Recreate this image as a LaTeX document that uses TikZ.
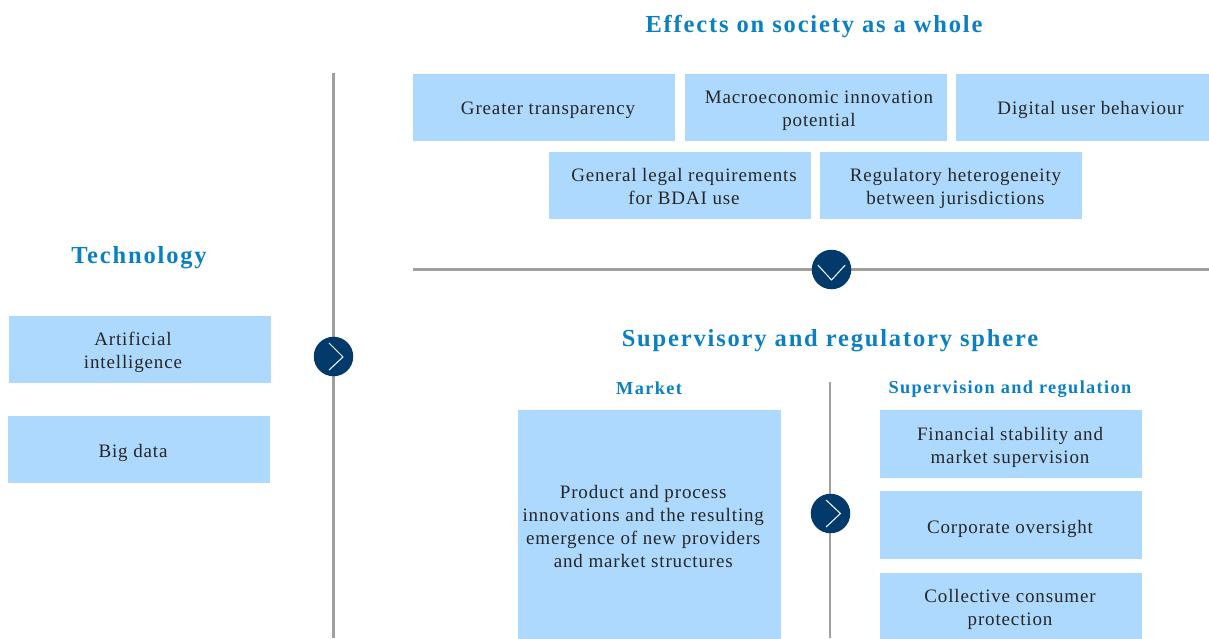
\documentclass[tikz,border=0pt]{standalone}
\usepackage{fontspec}
\setmainfont{Liberation Serif}[LetterSpace=4.5]
\newfontfamily\headfont{Liberation Serif}[LetterSpace=7.5]
\definecolor{boxblue}{HTML}{ADD9FE}
\definecolor{headblue}{HTML}{0A80C4}
\definecolor{navy}{HTML}{033A6C}
\definecolor{rulegray}{HTML}{9F9F9F}
\definecolor{bodytext}{HTML}{262626}
% text set off-centre inside its box: x offset, downward offset, lines
\newcommand\offtext[3]{\hspace*{#1}\raisebox{-#2}[\height][\depth]{\begin{tabular}{@{}c@{}}#3\end{tabular}}\hspace*{-#1}}
\tikzset{
  x=1pt,y=-1pt,
  bluebox/.style={fill=boxblue,draw=none,inner sep=0pt,text=bodytext,font=\fontsize{19}{23}\selectfont,minimum width=262pt,minimum height=67pt,anchor=center},
  bighead/.style={text=headblue,font=\headfont\fontsize{24.5}{28}\selectfont\bfseries,inner sep=0pt,anchor=center},
  smallhead/.style={text=headblue,font=\headfont\fontsize{18.3}{22}\selectfont\bfseries,inner sep=0pt,anchor=center},
  ruleline/.style={draw=rulegray,line width=2.2pt},
  roundel/.style={circle,fill=navy,draw=none,minimum size=39.5pt,inner sep=0pt},
  chevron/.style={draw=white,line width=1pt}
}
\begin{document}
\renewcommand{\arraystretch}{1}
\setlength{\tabcolsep}{0pt}
\begin{tikzpicture}
\useasboundingbox (0,0) rectangle (1209,638);
\clip (0,0) rectangle (1209,638);
% rules
\coordinate (vltop) at (333.5,73);
\coordinate (vlbot) at (333.5,638);
\coordinate (hlleft) at (413,269.5);
\coordinate (hlright) at (1209,269.5);
\coordinate (vrtop) at (830,382);
\coordinate (vrbot) at (830,638);
\draw[ruleline] (vltop) -- (vlbot);
\draw[ruleline] (hlleft) -- (hlright);
\draw[ruleline] (vrtop) -- (vrbot);
% headings
\node[bighead] (h1) at (814,27) {Effects on society as a whole};
\node[bighead] (h2) at (139,258) {Technology};
\node[bighead] (h3) at (830,341) {Supervisory and regulatory sphere};
\node[smallhead] (h4) at (649,388) {Market};
\node[smallhead] (h5) at (1010,389.5) {Supervision and regulation};
% boxes
\node[bluebox] (b1) at (544,107.5) {\offtext{4pt}{2pt}{Greater transparency}};
\node[bluebox] (b2) at (816,107.5) {\offtext{3pt}{2.5pt}{Macroeconomic innovation\\potential}};
\node[bluebox,minimum width=253pt] (b3) at (1082.5,107.5) {\offtext{8pt}{2pt}{Digital user behaviour}};
\node[bluebox] (b4) at (680,185.5) {\offtext{4pt}{3pt}{General legal requirements\\for BDAI use}};
\node[bluebox] (b5) at (951,185.5) {\offtext{4.5pt}{3pt}{Regulatory heterogeneity\\between jurisdictions}};
\node[bluebox] (t1) at (140,349.5) {\offtext{-7pt}{3pt}{Artificial\\intelligence}};
\node[bluebox] (t2) at (139,449.5) {\offtext{-6pt}{3.5pt}{Big data}};
\node[bluebox,minimum width=262.5pt,minimum height=233pt] (m1) at (649.25,526.5) {\offtext{-6pt}{2pt}{Product and process\\innovations and the resulting\\emergence of new providers\\and market structures}};
\node[bluebox,minimum height=68pt] (s1) at (1011,444) {\offtext{-1pt}{3pt}{Financial stability and\\market supervision}};
\node[bluebox,minimum height=68pt] (s2) at (1011,525) {\offtext{-1pt}{3.5pt}{Corporate oversight}};
\node[bluebox] (s3) at (1011,606.5) {\offtext{-1pt}{3pt}{Collective consumer\\protection}};
% roundels
\node[roundel] (c1) at (333.5,356.5) {};
\node[roundel] (c2) at (831.5,269.5) {};
\node[roundel] (c3) at (830.5,513.5) {};
\draw[chevron] ([shift={(-4.5,-13.5)}]c1.center) -- ([shift={(9.5,0.5)}]c1.center) -- ([shift={(-4.5,13.5)}]c1.center);
\draw[chevron] ([shift={(-13.7,-4.5)}]c2.center) -- ([shift={(0,10.5)}]c2.center) -- ([shift={(13.7,-4.5)}]c2.center);
\draw[chevron] ([shift={(-4.5,-13.5)}]c3.center) -- ([shift={(10,0)}]c3.center) -- ([shift={(-4.5,13.5)}]c3.center);
\end{tikzpicture}
\end{document}
